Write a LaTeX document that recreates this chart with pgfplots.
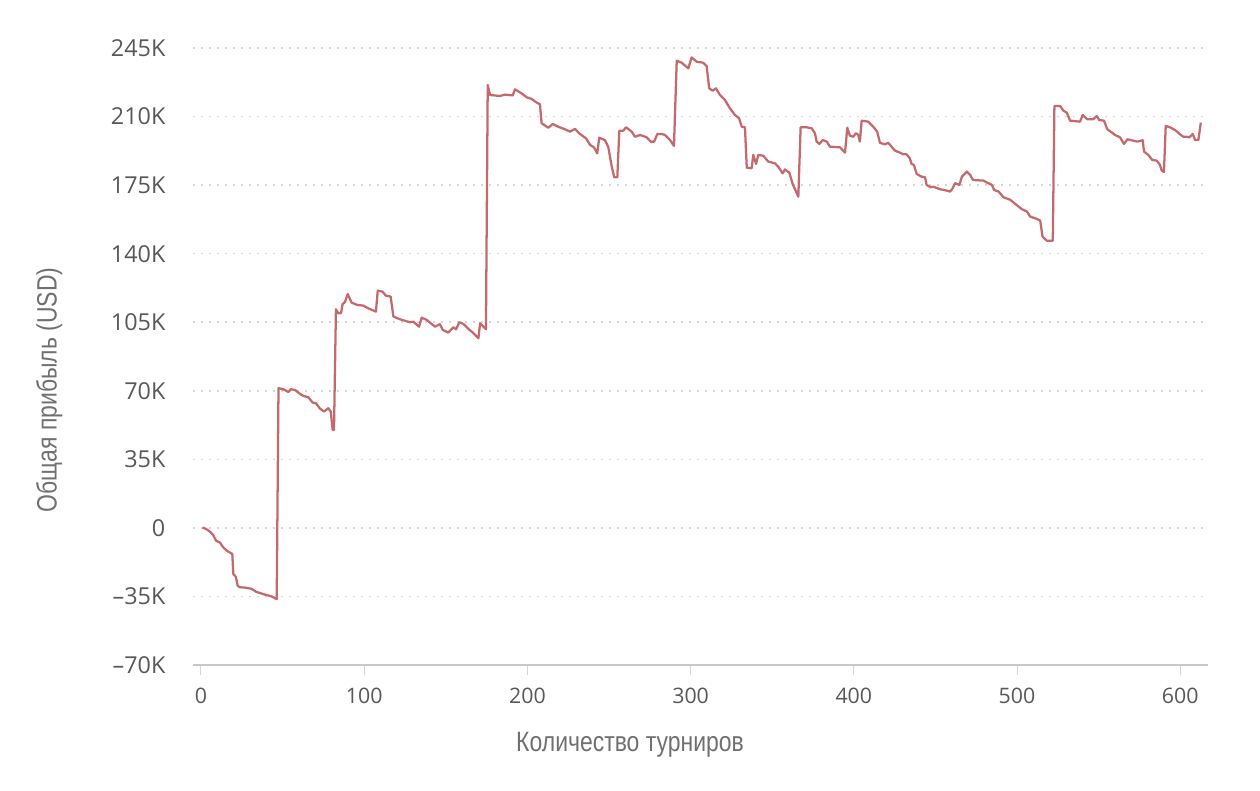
\documentclass[border=0pt]{standalone}
\usepackage{fontspec}
\setmainfont{Open Sans}
\newfontfamily\condfont{Liberation Sans}[FakeStretch=0.82]
\usepackage{pgfplots}
\pgfplotsset{compat=1.18}
\usepackage{pgfplotstable}
\definecolor{linecol}{RGB}{196,106,108}
\definecolor{ticklab}{RGB}{88,88,88}
\definecolor{titlecol}{RGB}{112,112,112}
\definecolor{gridcol}{RGB}{214,214,214}
\definecolor{axiscol}{RGB}{200,200,200}
\definecolor{tickcol}{RGB}{204,214,235}
\pgfplotstableread{
x y
1 0.2
3 -0.5
5.5 -1.9
7.5 -3.6
9.2 -6.5
11.6 -7.5
13.7 -10
15.7 -11.6
19.2 -13.3
19.8 -23.5
21.4 -25
22.5 -29.6
23.9 -30.3
27 -30.5
31 -31.1
34 -32.7
38.2 -33.8
43.3 -35
46.4 -36.4
47.5 71.3
50.4 70.8
53.5 69.4
55 70.8
57.6 70.4
60.7 68.4
62.7 67.4
65.8 66.7
68.4 64
70.5 63.6
72.9 60.9
75.4 59.4
78 61.1
79.5 59.4
80.7 50
81.5 50
82.7 111.6
84.1 109.6
85.8 109.6
86.8 114.3
88.2 115.2
89.9 119.4
92.3 115
95.8 113.8
99.5 113.5
102.5 112.1
107.2 110.4
108.3 121.1
111.3 120.6
113.2 118.6
116.2 118.1
117.9 107.9
121.9 106.5
128 105
130.1 105.3
133.6 102.7
135.2 107.3
138.3 106.2
143.4 102.7
146.4 104
148.1 101.1
151.5 99.7
154.6 102.4
156.3 101.4
158.3 105
160.8 104.1
164.5 101.1
167 99.4
170 96.8
171 104.5
174.6 101.4
175.7 226.1
177.1 221
183.2 220.5
186.3 221.2
191 220.8
192.4 223.9
196.5 221.8
199.6 219.8
202.6 219
205.7 217.1
207.7 216.3
208.7 206.6
212.8 204.3
215.5 206.2
218.9 204.8
223 203.5
226.1 202.3
229.2 203.7
232.2 201.1
235.9 198.9
238.4 195.5
240.8 194.3
242.8 191.2
244 199.2
247.5 198
249.5 194.6
251.6 184.8
253.2 179
255.1 179
256.3 202.8
258.8 202.8
260.4 204.5
263.9 202.3
265.9 199.7
269 200.6
273.1 199.4
275.5 197.2
277.7 197.2
279.6 201.1
282.3 201.1
284.3 200.6
287.4 198
289.8 195
291.5 238.5
294.5 237.5
298.6 234.6
300.6 240.2
303.7 238
307.7 237.5
309.8 235.8
311.4 224.4
313.5 223.2
315.5 224.4
318 221
321 218.5
324.1 214.2
327.2 210.8
329.7 209.1
331.3 204.8
333.3 204.5
334.4 183.9
337.4 183.6
338.4 190.4
340.1 185.8
341.5 190.4
344.5 190
347.6 187
351.7 186.1
353.7 184.4
356.4 181
357.8 183
360.5 181.3
362.5 175.6
366 169.1
367.4 204.5
371.1 204.5
374.2 204
376.2 201.5
377.2 197.2
378.9 196
380.9 198
383.4 197.2
385.4 194.6
391.5 194.3
394.6 191.6
396 204.3
397.6 200.2
399.6 199.7
401.3 201.5
402.7 200.6
403.7 197.2
404.8 207.9
408.8 207.4
411.9 204.8
414.3 202.3
416 196.6
419 195.8
421.1 196.6
423.1 194.6
425.2 192.6
428.2 191.6
430.3 190.7
432.3 190.7
434.3 188.7
435.4 185.8
436.8 185.3
438.5 180.7
441.5 179.3
443.6 179
444.6 175.1
447.1 173.9
448.7 174.2
452.8 172.9
456.9 172.2
459 171.7
460.6 173.4
462 176
464.7 175.1
466.2 179.3
469.3 181.9
471.3 180.2
473 177.6
479.5 177.3
481.6 176.3
484.6 175.1
486 172.5
488.7 171.7
491.7 168.8
495.8 167.5
498.9 165.4
503 162.7
506.1 161.5
508.1 158.9
512.2 157.7
514.2 156.9
515.6 148.7
518.3 146.6
521.9 146.6
522.9 215.4
526.4 215.4
528.4 213
530.5 212
532.5 207.9
538.6 207.4
540.2 210.8
543.1 208.6
546.7 208.6
548.8 210.3
550.4 208.2
553.3 207.9
555.3 203.5
558 201.9
560 200.6
563.1 199.4
565.5 196
567.6 198.4
571.2 197.7
573.7 197.2
577 197.9
577.8 192.1
580.4 190.4
582.9 187.8
585.6 187.5
587.6 185.3
588.6 182.4
590 181.7
591.1 205.2
593.8 204.5
597.4 202.8
599.5 201.1
601.9 199.7
604 199.7
605.6 199.4
607.7 201.1
609.1 198
611.1 198
612.6 206.9
}\profit
\begin{document}
\begin{tikzpicture}
\path[use as bounding box] (-145.1pt,-93.75pt) rectangle (799.9pt,498.75pt);
\begin{axis}[
  at={(0,0)}, anchor=south west,
  scale only axis,
  width=760.9pt, height=462.75pt,
  xmin=-4.6, xmax=617,
  ymin=-70, ymax=245,
  xtick={0,100,...,600},
  ytick={-70,-35,0,35,70,105,140,175,210,245},
  yticklabels={–70K,–35K,0,35K,70K,105K,140K,175K,210K,245K},
  /pgf/number format/assume math mode=true,
  axis line style={draw=none},
  tick pos=left,
  tick align=outside,
  major tick length=7.5pt,
  ytick style={draw=none},
  xtick style={draw=tickcol, line width=0.75pt},
  ymajorgrids,
  grid style={draw=gridcol, line width=1.1pt, dash pattern=on 1.4pt off 4.6pt},
  tick label style={text=ticklab},
  xticklabel style={font=\fontsize{16}{18}\selectfont, anchor=base, inner sep=0pt, yshift=-21.2pt},
  yticklabel style={font=\fontsize{17.5}{20}\selectfont, anchor=east, inner sep=0pt, xshift=-13.4pt},
  xlabel={Количество турниров},
  ylabel={Общая прибыль (USD)},
  xlabel style={at={(axis cs:262.9,-114.2)}, anchor=base, inner sep=0pt, font=\condfont\fontsize{21}{24}\selectfont, text=titlecol},
  ylabel style={at={(axis cs:-88.4,70.4)}, anchor=base, inner sep=0pt, rotate=0, font=\condfont\fontsize{21}{24}\selectfont, text=titlecol},
  clip=false,
]
\addplot[draw=linecol, line width=1.7pt, line join=round, no marks] table[x=x,y=y] {\profit};
\draw[draw=axiscol, line width=1.5pt] (rel axis cs:0,0) -- (rel axis cs:1,0);
\end{axis}
\end{tikzpicture}
\end{document}
